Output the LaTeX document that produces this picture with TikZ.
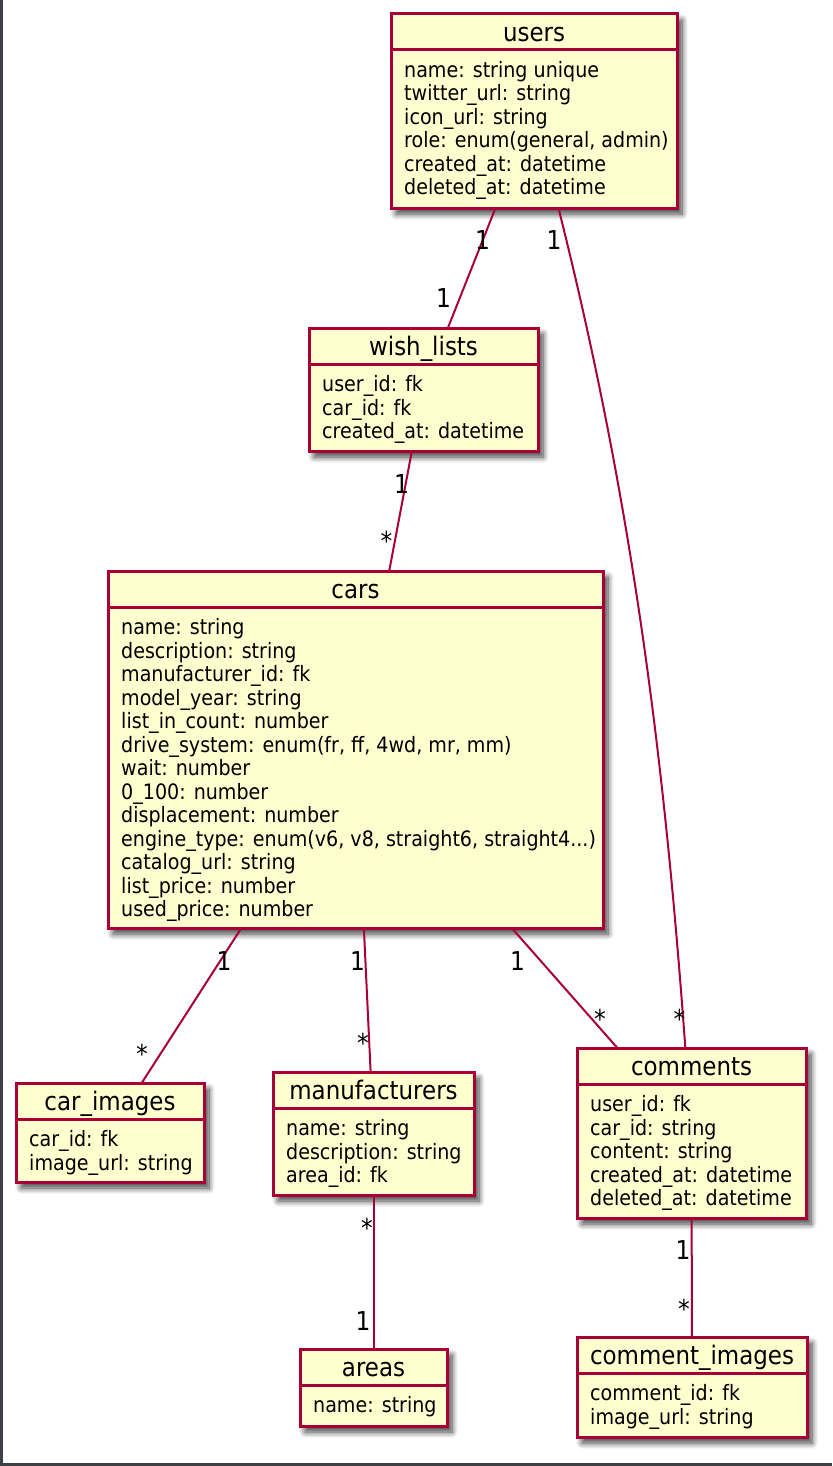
\documentclass[tikz,border=0pt]{standalone}
\usepackage{fontspec}
\setmainfont{DejaVu Sans}[FakeStretch=0.9]
\usetikzlibrary{shadows.blur}
\definecolor{umlborder}{HTML}{A80036}
\definecolor{umlfill}{HTML}{FEFECE}
\definecolor{framegray}{HTML}{3C4044}
\tikzset{
  classbox/.style={draw=umlborder, fill=umlfill, line width=3pt, inner sep=0pt, outer sep=0pt,
    blur shadow={shadow xshift=5pt, shadow yshift=-6pt, shadow blur radius=6pt, shadow blur steps=10, shadow opacity=75}},
  classline/.style={draw=umlborder, line width=3pt},
  titletext/.style={anchor=base, inner sep=0pt, font=\fontsize{25.5}{30}\selectfont},
  attrtext/.style={anchor=base west, inner sep=0pt, font=\fontsize{21.2}{25}\selectfont},
  multlabel/.style={anchor=base, inner sep=0pt, font=\fontsize{26}{30}\selectfont},
  conn/.style={draw=umlborder, line width=2pt},
  framestyle/.style={draw=framegray, line width=3pt}
}
% #1 name, #2 title, #3 left, #4 top, #5 width, #6 height, #7 attributes
\newcommand\umlclass[7]{%
  \node[classbox, minimum width=#5pt, minimum height=#6pt, anchor=north west] (#1) at (#3,#4) {};
  \draw[classline] ([yshift=-36pt]#1.north west) -- ([yshift=-36pt]#1.north east);
  \node[titletext] (#1-title) at ([yshift=-27.5pt]#1.north) {#2};
  \foreach \t [count=\i from 0] in {#7} {
    \node[attrtext] (#1-a\i) at ([xshift=13pt,yshift=-63.5pt-23.5pt*\i]#1.north west) {\t};
  }
}
\begin{document}
\begin{tikzpicture}[x=1pt,y=-1pt]
\useasboundingbox (0,0) rectangle (832,1466);
\draw[framestyle] (1.5,0) coordinate (frametop) -- (1.5,1464.5) coordinate (framecorner) -- (832,1464.5) coordinate (frameright);

\umlclass{users}{users}{391}{14}{286}{194}{name: string unique, twitter\_url: string, icon\_url: string, {role: enum(general, admin)}, created\_at: datetime, deleted\_at: datetime}
\umlclass{wishlists}{wish\_lists}{309}{328}{229}{123}{user\_id: fk, car\_id: fk, created\_at: datetime}
\umlclass{cars}{cars}{108}{571}{495}{357}{name: string, description: string, manufacturer\_id: fk, model\_year: string, list\_in\_count: number, {drive\_system: enum(fr, ff, 4wd, mr, mm)}, wait: number, 0\_100: number, displacement: number, {engine\_type: enum(v6, v8, straight6, straight4{.}{.}{.})}, catalog\_url: string, list\_price: number, used\_price: number}
\umlclass{carimages}{car\_images}{16}{1083}{188}{99}{car\_id: fk, image\_url: string}
\umlclass{manufacturers}{manufacturers}{273}{1072}{201}{123}{name: string, description: string, area\_id: fk}
\umlclass{comments}{comments}{577}{1048}{229}{170}{user\_id: fk, car\_id: string, content: string, created\_at: datetime, deleted\_at: datetime}
\umlclass{areas}{areas}{300}{1349}{147}{77}{name: string}
\umlclass{commentimages}{comment\_images}{577}{1337}{230}{100}{comment\_id: fk, image\_url: string}

% connectors
\draw[conn] (users) -- (wishlists);
\draw[conn] (users) .. controls (634,508) and (665,768) .. (comments);
\draw[conn] (wishlists) -- (cars);
\draw[conn] (cars) -- (carimages);
\draw[conn] (cars) -- (manufacturers);
\draw[conn] (cars) -- (comments);
\draw[conn] (manufacturers) -- (areas);
\draw[conn] (comments) -- (commentimages);

% multiplicities
\node[multlabel] (m1) at (482.5,249) {1};
\node[multlabel] (m2) at (443.5,307) {1};
\node[multlabel] (m3) at (554,249) {1};
\node[multlabel] (m4) at (401.5,493) {1};
\node[multlabel] (m5) at (386.5,550) {*};
\node[multlabel] (m6) at (224,970) {1};
\node[multlabel] (m7) at (142,1063) {*};
\node[multlabel] (m8) at (357.5,970) {1};
\node[multlabel] (m9) at (363,1052) {*};
\node[multlabel] (m10) at (517.5,970) {1};
\node[multlabel] (m11) at (600,1028) {*};
\node[multlabel] (m12) at (679.5,1028) {*};
\node[multlabel] (m13) at (683,1259) {1};
\node[multlabel] (m14) at (684,1318) {*};
\node[multlabel] (m15) at (367,1237) {*};
\node[multlabel] (m16) at (363,1330) {1};
\end{tikzpicture}
\end{document}
